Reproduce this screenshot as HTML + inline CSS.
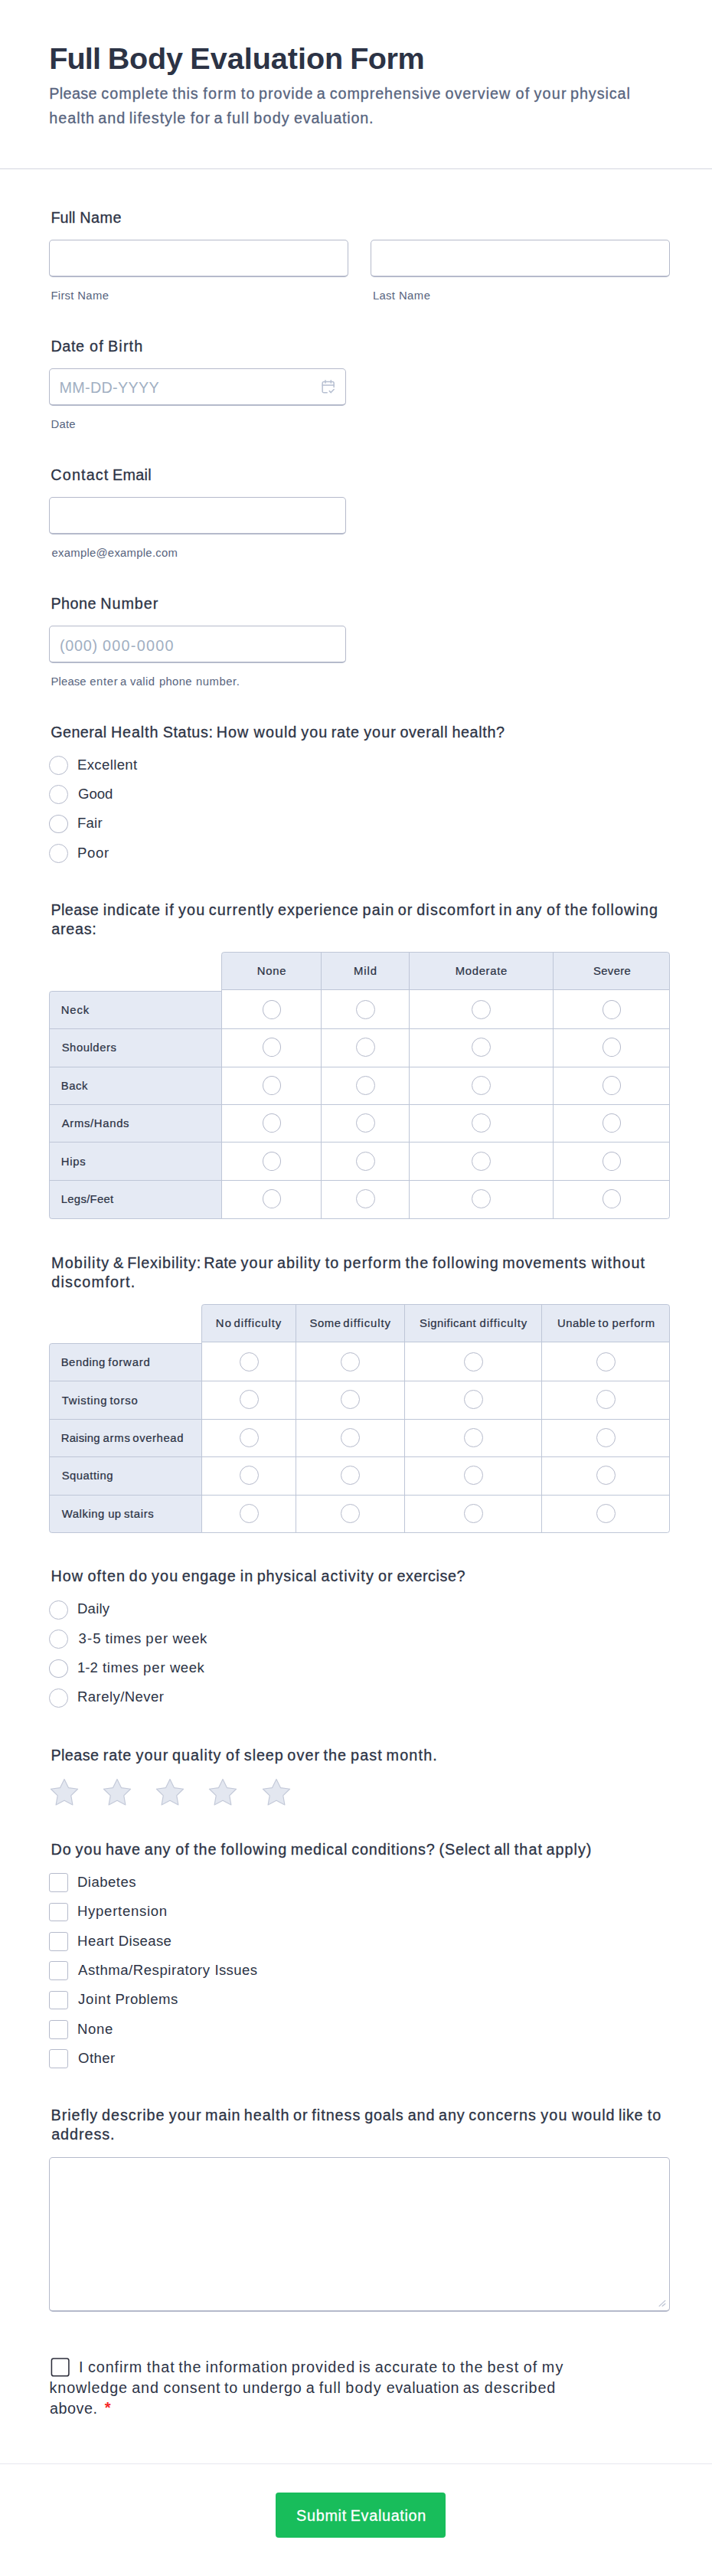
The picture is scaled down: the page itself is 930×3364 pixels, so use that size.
<!DOCTYPE html>
<html lang="en"><head><meta charset="utf-8"><title>Full Body Evaluation Form</title>
<style>
html,body{margin:0;padding:0;background:#fff}
body{width:930px;height:3364px;position:relative;overflow:hidden;font-family:"Liberation Sans",sans-serif}
.t{position:absolute;white-space:nowrap;line-height:1}
.b{position:absolute;box-sizing:border-box}
</style></head>
<body>
<div class="b" style="left:0px;top:220px;width:930px;height:1px;background:#d3d5df"></div>
<div class="b" style="left:64px;top:313px;width:391px;height:49px;border:1px solid #b5bacb;background:#fff;border-radius:5px;border-bottom-width:2px"></div>
<div class="b" style="left:484px;top:313px;width:391px;height:49px;border:1px solid #b5bacb;background:#fff;border-radius:5px;border-bottom-width:2px"></div>
<div class="b" style="left:64px;top:481px;width:388px;height:49px;border:1px solid #b5bacb;background:#fff;border-radius:5px;border-bottom-width:2px"></div>
<svg class="b" style="left:420px;top:496.4px" width="17.3" height="18.26" viewBox="0 0 18 19" fill="none" stroke="#b6bfd1" stroke-width="1.55" stroke-linecap="round" stroke-linejoin="round"><path d="M7.5 17.5H3.2a2 2 0 0 1-2-2V4.6a2 2 0 0 1 2-2h11.6a2 2 0 0 1 2 2V10"/><path d="M1.2 7.4h15.6"/><path d="M5.2 0.9v3.4M12.8 0.9v3.4"/><path d="M10.7 15.2l2.1 2.1 4-4.3"/></svg>
<div class="b" style="left:64px;top:649px;width:388px;height:49px;border:1px solid #b5bacb;background:#fff;border-radius:5px;border-bottom-width:2px"></div>
<div class="b" style="left:64px;top:817px;width:388px;height:49px;border:1px solid #b5bacb;background:#fff;border-radius:5px;border-bottom-width:2px"></div>
<div class="b" style="left:64px;top:987px;width:25px;height:25px;border:1px solid #b5bacb;background:#fff;border-radius:50%"></div>
<div class="b" style="left:64px;top:1025px;width:25px;height:25px;border:1px solid #b5bacb;background:#fff;border-radius:50%"></div>
<div class="b" style="left:64px;top:1064px;width:25px;height:24px;border:1px solid #b5bacb;background:#fff;border-radius:50%"></div>
<div class="b" style="left:64px;top:1102px;width:25px;height:25px;border:1px solid #b5bacb;background:#fff;border-radius:50%"></div>
<div class="b" style="left:289px;top:1243px;width:586px;height:51px;border:1px solid #bec6d7;background:#e5eaf4;border-radius:3.71px 3.71px 0 0"></div>
<div class="b" style="left:289px;top:1292px;width:586px;height:300px;border:1px solid #bec6d7;background:#fff;border-radius:0 0 3.71px 0"></div>
<div class="b" style="left:64px;top:1294px;width:226px;height:298px;border:1px solid #bec6d7;background:#e5eaf4;border-radius:3.71px 0 0 3.71px"></div>
<div class="b" style="left:64px;top:1343px;width:811px;height:1px;background:#bec6d7"></div>
<div class="b" style="left:64px;top:1393px;width:811px;height:1px;background:#bec6d7"></div>
<div class="b" style="left:64px;top:1442px;width:811px;height:1px;background:#bec6d7"></div>
<div class="b" style="left:64px;top:1491px;width:811px;height:1px;background:#bec6d7"></div>
<div class="b" style="left:64px;top:1541px;width:811px;height:1px;background:#bec6d7"></div>
<div class="b" style="left:419px;top:1243px;width:1px;height:349px;background:#bec6d7"></div>
<div class="b" style="left:534px;top:1243px;width:1px;height:349px;background:#bec6d7"></div>
<div class="b" style="left:722px;top:1243px;width:1px;height:349px;background:#bec6d7"></div>
<div class="b" style="left:343px;top:1306px;width:24px;height:25px;border:1px solid #b5bacb;background:#fff;border-radius:50%"></div>
<div class="b" style="left:343px;top:1355px;width:24px;height:25px;border:1px solid #b5bacb;background:#fff;border-radius:50%"></div>
<div class="b" style="left:343px;top:1405px;width:24px;height:25px;border:1px solid #b5bacb;background:#fff;border-radius:50%"></div>
<div class="b" style="left:343px;top:1454px;width:24px;height:25px;border:1px solid #b5bacb;background:#fff;border-radius:50%"></div>
<div class="b" style="left:343px;top:1504px;width:24px;height:25px;border:1px solid #b5bacb;background:#fff;border-radius:50%"></div>
<div class="b" style="left:343px;top:1553px;width:24px;height:25px;border:1px solid #b5bacb;background:#fff;border-radius:50%"></div>
<div class="b" style="left:465px;top:1306px;width:25px;height:25px;border:1px solid #b5bacb;background:#fff;border-radius:50%"></div>
<div class="b" style="left:465px;top:1355px;width:25px;height:25px;border:1px solid #b5bacb;background:#fff;border-radius:50%"></div>
<div class="b" style="left:465px;top:1405px;width:25px;height:25px;border:1px solid #b5bacb;background:#fff;border-radius:50%"></div>
<div class="b" style="left:465px;top:1454px;width:25px;height:25px;border:1px solid #b5bacb;background:#fff;border-radius:50%"></div>
<div class="b" style="left:465px;top:1504px;width:25px;height:25px;border:1px solid #b5bacb;background:#fff;border-radius:50%"></div>
<div class="b" style="left:465px;top:1553px;width:25px;height:25px;border:1px solid #b5bacb;background:#fff;border-radius:50%"></div>
<div class="b" style="left:616px;top:1306px;width:25px;height:25px;border:1px solid #b5bacb;background:#fff;border-radius:50%"></div>
<div class="b" style="left:616px;top:1355px;width:25px;height:25px;border:1px solid #b5bacb;background:#fff;border-radius:50%"></div>
<div class="b" style="left:616px;top:1405px;width:25px;height:25px;border:1px solid #b5bacb;background:#fff;border-radius:50%"></div>
<div class="b" style="left:616px;top:1454px;width:25px;height:25px;border:1px solid #b5bacb;background:#fff;border-radius:50%"></div>
<div class="b" style="left:616px;top:1504px;width:25px;height:25px;border:1px solid #b5bacb;background:#fff;border-radius:50%"></div>
<div class="b" style="left:616px;top:1553px;width:25px;height:25px;border:1px solid #b5bacb;background:#fff;border-radius:50%"></div>
<div class="b" style="left:787px;top:1306px;width:24px;height:25px;border:1px solid #b5bacb;background:#fff;border-radius:50%"></div>
<div class="b" style="left:787px;top:1355px;width:24px;height:25px;border:1px solid #b5bacb;background:#fff;border-radius:50%"></div>
<div class="b" style="left:787px;top:1405px;width:24px;height:25px;border:1px solid #b5bacb;background:#fff;border-radius:50%"></div>
<div class="b" style="left:787px;top:1454px;width:24px;height:25px;border:1px solid #b5bacb;background:#fff;border-radius:50%"></div>
<div class="b" style="left:787px;top:1504px;width:24px;height:25px;border:1px solid #b5bacb;background:#fff;border-radius:50%"></div>
<div class="b" style="left:787px;top:1553px;width:24px;height:25px;border:1px solid #b5bacb;background:#fff;border-radius:50%"></div>
<div class="b" style="left:263px;top:1703px;width:612px;height:51px;border:1px solid #bec6d7;background:#e5eaf4;border-radius:3.71px 3.71px 0 0"></div>
<div class="b" style="left:263px;top:1752px;width:612px;height:250px;border:1px solid #bec6d7;background:#fff;border-radius:0 0 3.71px 0"></div>
<div class="b" style="left:64px;top:1754px;width:200px;height:248px;border:1px solid #bec6d7;background:#e5eaf4;border-radius:3.71px 0 0 3.71px"></div>
<div class="b" style="left:64px;top:1803px;width:811px;height:1px;background:#bec6d7"></div>
<div class="b" style="left:64px;top:1853px;width:811px;height:1px;background:#bec6d7"></div>
<div class="b" style="left:64px;top:1902px;width:811px;height:1px;background:#bec6d7"></div>
<div class="b" style="left:64px;top:1952px;width:811px;height:1px;background:#bec6d7"></div>
<div class="b" style="left:386px;top:1703px;width:1px;height:299px;background:#bec6d7"></div>
<div class="b" style="left:528px;top:1703px;width:1px;height:299px;background:#bec6d7"></div>
<div class="b" style="left:707px;top:1703px;width:1px;height:299px;background:#bec6d7"></div>
<div class="b" style="left:313px;top:1766px;width:25px;height:25px;border:1px solid #b5bacb;background:#fff;border-radius:50%"></div>
<div class="b" style="left:313px;top:1815px;width:25px;height:25px;border:1px solid #b5bacb;background:#fff;border-radius:50%"></div>
<div class="b" style="left:313px;top:1865px;width:25px;height:25px;border:1px solid #b5bacb;background:#fff;border-radius:50%"></div>
<div class="b" style="left:313px;top:1914px;width:25px;height:25px;border:1px solid #b5bacb;background:#fff;border-radius:50%"></div>
<div class="b" style="left:313px;top:1964px;width:25px;height:25px;border:1px solid #b5bacb;background:#fff;border-radius:50%"></div>
<div class="b" style="left:445px;top:1766px;width:25px;height:25px;border:1px solid #b5bacb;background:#fff;border-radius:50%"></div>
<div class="b" style="left:445px;top:1815px;width:25px;height:25px;border:1px solid #b5bacb;background:#fff;border-radius:50%"></div>
<div class="b" style="left:445px;top:1865px;width:25px;height:25px;border:1px solid #b5bacb;background:#fff;border-radius:50%"></div>
<div class="b" style="left:445px;top:1914px;width:25px;height:25px;border:1px solid #b5bacb;background:#fff;border-radius:50%"></div>
<div class="b" style="left:445px;top:1964px;width:25px;height:25px;border:1px solid #b5bacb;background:#fff;border-radius:50%"></div>
<div class="b" style="left:606px;top:1766px;width:25px;height:25px;border:1px solid #b5bacb;background:#fff;border-radius:50%"></div>
<div class="b" style="left:606px;top:1815px;width:25px;height:25px;border:1px solid #b5bacb;background:#fff;border-radius:50%"></div>
<div class="b" style="left:606px;top:1865px;width:25px;height:25px;border:1px solid #b5bacb;background:#fff;border-radius:50%"></div>
<div class="b" style="left:606px;top:1914px;width:25px;height:25px;border:1px solid #b5bacb;background:#fff;border-radius:50%"></div>
<div class="b" style="left:606px;top:1964px;width:25px;height:25px;border:1px solid #b5bacb;background:#fff;border-radius:50%"></div>
<div class="b" style="left:779px;top:1766px;width:25px;height:25px;border:1px solid #b5bacb;background:#fff;border-radius:50%"></div>
<div class="b" style="left:779px;top:1815px;width:25px;height:25px;border:1px solid #b5bacb;background:#fff;border-radius:50%"></div>
<div class="b" style="left:779px;top:1865px;width:25px;height:25px;border:1px solid #b5bacb;background:#fff;border-radius:50%"></div>
<div class="b" style="left:779px;top:1914px;width:25px;height:25px;border:1px solid #b5bacb;background:#fff;border-radius:50%"></div>
<div class="b" style="left:779px;top:1964px;width:25px;height:25px;border:1px solid #b5bacb;background:#fff;border-radius:50%"></div>
<div class="b" style="left:64px;top:2090px;width:25px;height:25px;border:1px solid #b5bacb;background:#fff;border-radius:50%"></div>
<div class="b" style="left:64px;top:2128px;width:25px;height:25px;border:1px solid #b5bacb;background:#fff;border-radius:50%"></div>
<div class="b" style="left:64px;top:2167px;width:25px;height:24px;border:1px solid #b5bacb;background:#fff;border-radius:50%"></div>
<div class="b" style="left:64px;top:2205px;width:25px;height:25px;border:1px solid #b5bacb;background:#fff;border-radius:50%"></div>
<svg class="b" style="left:61.70px;top:2320.1px" width="44" height="44" viewBox="0 0 44 44"><polygon points="22.00,3.50 27.41,14.56 39.59,16.28 30.75,24.84 32.87,36.97 22.00,31.20 11.13,36.97 13.25,24.84 4.41,16.28 16.59,14.56" fill="#e3e7f0" stroke="#c4cad9" stroke-width="1.2" stroke-linejoin="round"/></svg>
<svg class="b" style="left:130.96px;top:2320.1px" width="44" height="44" viewBox="0 0 44 44"><polygon points="22.00,3.50 27.41,14.56 39.59,16.28 30.75,24.84 32.87,36.97 22.00,31.20 11.13,36.97 13.25,24.84 4.41,16.28 16.59,14.56" fill="#e3e7f0" stroke="#c4cad9" stroke-width="1.2" stroke-linejoin="round"/></svg>
<svg class="b" style="left:200.21px;top:2320.1px" width="44" height="44" viewBox="0 0 44 44"><polygon points="22.00,3.50 27.41,14.56 39.59,16.28 30.75,24.84 32.87,36.97 22.00,31.20 11.13,36.97 13.25,24.84 4.41,16.28 16.59,14.56" fill="#e3e7f0" stroke="#c4cad9" stroke-width="1.2" stroke-linejoin="round"/></svg>
<svg class="b" style="left:269.47px;top:2320.1px" width="44" height="44" viewBox="0 0 44 44"><polygon points="22.00,3.50 27.41,14.56 39.59,16.28 30.75,24.84 32.87,36.97 22.00,31.20 11.13,36.97 13.25,24.84 4.41,16.28 16.59,14.56" fill="#e3e7f0" stroke="#c4cad9" stroke-width="1.2" stroke-linejoin="round"/></svg>
<svg class="b" style="left:338.72px;top:2320.1px" width="44" height="44" viewBox="0 0 44 44"><polygon points="22.00,3.50 27.41,14.56 39.59,16.28 30.75,24.84 32.87,36.97 22.00,31.20 11.13,36.97 13.25,24.84 4.41,16.28 16.59,14.56" fill="#e3e7f0" stroke="#c4cad9" stroke-width="1.2" stroke-linejoin="round"/></svg>
<div class="b" style="left:64px;top:2446px;width:25px;height:25px;border:1px solid #b5bacb;background:#fff;border-radius:3.09px"></div>
<div class="b" style="left:64px;top:2485px;width:25px;height:24px;border:1px solid #b5bacb;background:#fff;border-radius:3.09px"></div>
<div class="b" style="left:64px;top:2523px;width:25px;height:25px;border:1px solid #b5bacb;background:#fff;border-radius:3.09px"></div>
<div class="b" style="left:64px;top:2561px;width:25px;height:25px;border:1px solid #b5bacb;background:#fff;border-radius:3.09px"></div>
<div class="b" style="left:64px;top:2600px;width:25px;height:24px;border:1px solid #b5bacb;background:#fff;border-radius:3.09px"></div>
<div class="b" style="left:64px;top:2638px;width:25px;height:25px;border:1px solid #b5bacb;background:#fff;border-radius:3.09px"></div>
<div class="b" style="left:64px;top:2676px;width:25px;height:25px;border:1px solid #b5bacb;background:#fff;border-radius:3.09px"></div>
<div class="b" style="left:64px;top:2817px;width:811px;height:202px;border:1px solid #b5bacb;border-bottom-width:2px;background:#fff;border-radius:4.95px"></div>
<svg class="b" style="left:858px;top:3002px" width="14" height="12" viewBox="0 0 14 12" stroke="#bcc3d3" stroke-width="1.3" stroke-linecap="round" fill="none"><path d="M3.1 9.6L10.8 2.4M7.2 9.6L10.8 6.4"/></svg>
<svg class="b" style="left:64px;top:3076px" width="30" height="30" viewBox="0 0 30 30"><rect x="3.4" y="4.0" width="22.5" height="22.8" rx="2.6" fill="#fff" stroke="#2d2e3b" stroke-width="1.55"/></svg>
<div class="b" style="left:0px;top:3217px;width:930px;height:1px;background:#e6e8ef"></div>
<div class="b" style="left:360px;top:3255px;width:222px;height:58.5px;background:#18bd5b;border-radius:4px;"></div>
<span class="t" style="left:64.35px;top:57.00px;font-size:39.574px;color:#2c3345;font-weight:700;letter-spacing:-0.907px;">Full</span>
<span class="t" style="left:140.70px;top:57.00px;font-size:39.574px;color:#2c3345;font-weight:700;letter-spacing:-0.181px;">Body</span>
<span class="t" style="left:248.30px;top:57.00px;font-size:39.574px;color:#2c3345;font-weight:700;letter-spacing:-0.007px;">Evaluation</span>
<span class="t" style="left:457.13px;top:57.00px;font-size:39.574px;color:#2c3345;font-weight:700;letter-spacing:-0.454px;">Form</span>
<span class="t" style="left:64.25px;top:113.00px;font-size:19.787px;color:#57647e;-webkit-text-stroke:0.30px;letter-spacing:0.357px;">Please</span>
<span class="t" style="left:132.35px;top:113.00px;font-size:19.787px;color:#57647e;-webkit-text-stroke:0.30px;letter-spacing:0.984px;">complete</span>
<span class="t" style="left:225.32px;top:113.00px;font-size:19.787px;color:#57647e;-webkit-text-stroke:0.30px;letter-spacing:0.895px;">this</span>
<span class="t" style="left:265.33px;top:113.00px;font-size:19.787px;color:#57647e;-webkit-text-stroke:0.30px;letter-spacing:1.185px;">form</span>
<span class="t" style="left:314.73px;top:113.00px;font-size:19.787px;color:#57647e;-webkit-text-stroke:0.30px;letter-spacing:1.185px;">to</span>
<span class="t" style="left:338.02px;top:113.00px;font-size:19.787px;color:#57647e;-webkit-text-stroke:0.30px;letter-spacing:0.942px;">provide</span>
<span class="t" style="left:413.87px;top:113.00px;font-size:19.787px;color:#57647e;-webkit-text-stroke:0.30px;">a</span>
<span class="t" style="left:430.84px;top:113.00px;font-size:19.787px;color:#57647e;-webkit-text-stroke:0.30px;letter-spacing:0.892px;">comprehensive</span>
<span class="t" style="left:581.46px;top:113.00px;font-size:19.787px;color:#57647e;-webkit-text-stroke:0.30px;letter-spacing:0.981px;">overview</span>
<span class="t" style="left:673.56px;top:113.00px;font-size:19.787px;color:#57647e;-webkit-text-stroke:0.30px;letter-spacing:1.185px;">of</span>
<span class="t" style="left:697.52px;top:113.00px;font-size:19.787px;color:#57647e;-webkit-text-stroke:0.30px;letter-spacing:1.185px;">your</span>
<span class="t" style="left:745.01px;top:113.00px;font-size:19.787px;color:#57647e;-webkit-text-stroke:0.30px;letter-spacing:0.924px;">physical</span>
<span class="t" style="left:64.25px;top:145.00px;font-size:19.787px;color:#57647e;-webkit-text-stroke:0.30px;letter-spacing:0.988px;">health</span>
<span class="t" style="left:128.20px;top:145.00px;font-size:19.787px;color:#57647e;-webkit-text-stroke:0.30px;letter-spacing:1.025px;">and</span>
<span class="t" style="left:168.71px;top:145.00px;font-size:19.787px;color:#57647e;-webkit-text-stroke:0.30px;letter-spacing:0.957px;">lifestyle</span>
<span class="t" style="left:248.65px;top:145.00px;font-size:19.787px;color:#57647e;-webkit-text-stroke:0.30px;letter-spacing:1.179px;">for</span>
<span class="t" style="left:279.38px;top:145.00px;font-size:19.787px;color:#57647e;-webkit-text-stroke:0.30px;">a</span>
<span class="t" style="left:296.35px;top:145.00px;font-size:19.787px;color:#57647e;-webkit-text-stroke:0.30px;letter-spacing:1.143px;">full</span>
<span class="t" style="left:331.33px;top:145.00px;font-size:19.787px;color:#57647e;-webkit-text-stroke:0.30px;letter-spacing:1.179px;">body</span>
<span class="t" style="left:383.91px;top:145.00px;font-size:19.787px;color:#57647e;-webkit-text-stroke:0.30px;letter-spacing:0.797px;">evaluation.</span>
<span class="t" style="left:66.50px;top:275.00px;font-size:19.787px;color:#2c3345;-webkit-text-stroke:0.30px;letter-spacing:0.039px;">Full</span>
<span class="t" style="left:104.26px;top:275.00px;font-size:19.787px;color:#2c3345;-webkit-text-stroke:0.30px;letter-spacing:0.504px;">Name</span>
<span class="t" style="left:66.50px;top:379.00px;font-size:14.840px;color:#57647e;letter-spacing:0.262px;">First</span>
<span class="t" style="left:101.28px;top:379.00px;font-size:14.840px;color:#57647e;letter-spacing:0.393px;">Name</span>
<span class="t" style="left:487.00px;top:379.00px;font-size:14.840px;color:#57647e;letter-spacing:0.302px;">Last</span>
<span class="t" style="left:520.88px;top:379.00px;font-size:14.840px;color:#57647e;letter-spacing:0.520px;">Name</span>
<span class="t" style="left:66.50px;top:443.00px;font-size:19.787px;color:#2c3345;-webkit-text-stroke:0.30px;letter-spacing:0.596px;">Date</span>
<span class="t" style="left:116.96px;top:443.00px;font-size:19.787px;color:#2c3345;-webkit-text-stroke:0.30px;letter-spacing:1.274px;">of</span>
<span class="t" style="left:141.03px;top:443.00px;font-size:19.787px;color:#2c3345;-webkit-text-stroke:0.30px;letter-spacing:1.143px;">Birth</span>
<span class="t" style="left:77.50px;top:497.00px;font-size:19.787px;color:#a1afc2;letter-spacing:0.312px;">MM-DD-YYYY</span>
<span class="t" style="left:66.50px;top:547.00px;font-size:14.840px;color:#57647e;letter-spacing:0.220px;">Date</span>
<span class="t" style="left:66.33px;top:611.00px;font-size:19.787px;color:#2c3345;-webkit-text-stroke:0.30px;letter-spacing:1.146px;">Contact</span>
<span class="t" style="left:146.99px;top:611.00px;font-size:19.787px;color:#2c3345;-webkit-text-stroke:0.30px;letter-spacing:0.308px;">Email</span>
<span class="t" style="left:67.50px;top:715.00px;font-size:14.840px;color:#57647e;letter-spacing:0.282px;">example@example.com</span>
<span class="t" style="left:66.50px;top:779.00px;font-size:19.787px;color:#2c3345;-webkit-text-stroke:0.30px;letter-spacing:0.429px;">Phone</span>
<span class="t" style="left:131.20px;top:779.00px;font-size:19.787px;color:#2c3345;-webkit-text-stroke:0.30px;letter-spacing:0.967px;">Number</span>
<span class="t" style="left:78.00px;top:834.00px;font-size:19.787px;color:#a1afc2;letter-spacing:0.710px;">(000)</span>
<span class="t" style="left:133.97px;top:834.00px;font-size:19.787px;color:#a1afc2;letter-spacing:1.284px;">000-0000</span>
<span class="t" style="left:66.50px;top:883.00px;font-size:14.840px;color:#57647e;letter-spacing:0.153px;">Please</span>
<span class="t" style="left:117.16px;top:883.00px;font-size:14.840px;color:#57647e;letter-spacing:0.694px;">enter</span>
<span class="t" style="left:157.02px;top:883.00px;font-size:14.840px;color:#57647e;">a</span>
<span class="t" style="left:169.99px;top:883.00px;font-size:14.840px;color:#57647e;letter-spacing:0.354px;">valid</span>
<span class="t" style="left:207.88px;top:883.00px;font-size:14.840px;color:#57647e;letter-spacing:0.343px;">phone</span>
<span class="t" style="left:256.04px;top:883.00px;font-size:14.840px;color:#57647e;letter-spacing:0.542px;">number.</span>
<span class="t" style="left:66.25px;top:947.00px;font-size:19.787px;color:#2c3345;-webkit-text-stroke:0.30px;letter-spacing:0.421px;">General</span>
<span class="t" style="left:144.93px;top:947.00px;font-size:19.787px;color:#2c3345;-webkit-text-stroke:0.30px;letter-spacing:0.888px;">Health</span>
<span class="t" style="left:212.65px;top:947.00px;font-size:19.787px;color:#2c3345;-webkit-text-stroke:0.30px;letter-spacing:0.642px;">Status:</span>
<span class="t" style="left:282.78px;top:947.00px;font-size:19.787px;color:#2c3345;-webkit-text-stroke:0.30px;letter-spacing:0.969px;">How</span>
<span class="t" style="left:331.62px;top:947.00px;font-size:19.787px;color:#2c3345;-webkit-text-stroke:0.30px;letter-spacing:1.012px;">would</span>
<span class="t" style="left:393.23px;top:947.00px;font-size:19.787px;color:#2c3345;-webkit-text-stroke:0.30px;letter-spacing:1.035px;">you</span>
<span class="t" style="left:432.76px;top:947.00px;font-size:19.787px;color:#2c3345;-webkit-text-stroke:0.30px;letter-spacing:0.714px;">rate</span>
<span class="t" style="left:475.19px;top:947.00px;font-size:19.787px;color:#2c3345;-webkit-text-stroke:0.30px;letter-spacing:1.035px;">your</span>
<span class="t" style="left:522.42px;top:947.00px;font-size:19.787px;color:#2c3345;-webkit-text-stroke:0.30px;letter-spacing:0.649px;">overall</span>
<span class="t" style="left:590.38px;top:947.00px;font-size:19.787px;color:#2c3345;-webkit-text-stroke:0.30px;letter-spacing:0.628px;">health?</span>
<span class="t" style="left:101.00px;top:990.00px;font-size:18.551px;color:#2c3345;letter-spacing:0.364px;">Excellent</span>
<span class="t" style="left:102.00px;top:1028.00px;font-size:18.551px;color:#2c3345;letter-spacing:0.008px;">Good</span>
<span class="t" style="left:101.00px;top:1066.00px;font-size:18.551px;color:#2c3345;letter-spacing:0.213px;">Fair</span>
<span class="t" style="left:101.00px;top:1105.00px;font-size:18.551px;color:#2c3345;letter-spacing:0.662px;">Poor</span>
<span class="t" style="left:66.50px;top:1179.00px;font-size:19.787px;color:#2c3345;-webkit-text-stroke:0.30px;letter-spacing:0.366px;">Please</span>
<span class="t" style="left:134.64px;top:1179.00px;font-size:19.787px;color:#2c3345;-webkit-text-stroke:0.30px;letter-spacing:0.888px;">indicate</span>
<span class="t" style="left:215.56px;top:1179.00px;font-size:19.787px;color:#2c3345;-webkit-text-stroke:0.30px;letter-spacing:1.204px;">if</span>
<span class="t" style="left:232.91px;top:1179.00px;font-size:19.787px;color:#2c3345;-webkit-text-stroke:0.30px;letter-spacing:1.204px;">you</span>
<span class="t" style="left:272.65px;top:1179.00px;font-size:19.787px;color:#2c3345;-webkit-text-stroke:0.30px;letter-spacing:1.103px;">currently</span>
<span class="t" style="left:363.02px;top:1179.00px;font-size:19.787px;color:#2c3345;-webkit-text-stroke:0.30px;letter-spacing:0.889px;">experience</span>
<span class="t" style="left:473.59px;top:1179.00px;font-size:19.787px;color:#2c3345;-webkit-text-stroke:0.30px;letter-spacing:1.067px;">pain</span>
<span class="t" style="left:519.68px;top:1179.00px;font-size:19.787px;color:#2c3345;-webkit-text-stroke:0.30px;letter-spacing:1.204px;">or</span>
<span class="t" style="left:544.16px;top:1179.00px;font-size:19.787px;color:#2c3345;-webkit-text-stroke:0.30px;letter-spacing:1.204px;">discomfort</span>
<span class="t" style="left:651.85px;top:1179.00px;font-size:19.787px;color:#2c3345;-webkit-text-stroke:0.30px;letter-spacing:1.204px;">in</span>
<span class="t" style="left:673.79px;top:1179.00px;font-size:19.787px;color:#2c3345;-webkit-text-stroke:0.30px;letter-spacing:0.893px;">any</span>
<span class="t" style="left:714.05px;top:1179.00px;font-size:19.787px;color:#2c3345;-webkit-text-stroke:0.30px;letter-spacing:1.204px;">of</span>
<span class="t" style="left:737.87px;top:1179.00px;font-size:19.787px;color:#2c3345;-webkit-text-stroke:0.30px;letter-spacing:1.061px;">the</span>
<span class="t" style="left:773.35px;top:1179.00px;font-size:19.787px;color:#2c3345;-webkit-text-stroke:0.30px;letter-spacing:1.091px;">following</span>
<span class="t" style="left:67.20px;top:1204.00px;font-size:19.787px;color:#2c3345;-webkit-text-stroke:0.30px;letter-spacing:0.744px;">areas:</span>
<span class="t" style="left:335.65px;top:1261.00px;font-size:14.840px;color:#2c3345;-webkit-text-stroke:0.23px;letter-spacing:0.790px;">None</span>
<span class="t" style="left:462.07px;top:1261.00px;font-size:14.840px;color:#2c3345;-webkit-text-stroke:0.23px;letter-spacing:0.886px;">Mild</span>
<span class="t" style="left:594.66px;top:1261.00px;font-size:14.840px;color:#2c3345;-webkit-text-stroke:0.23px;letter-spacing:0.717px;">Moderate</span>
<span class="t" style="left:774.92px;top:1261.00px;font-size:14.840px;color:#2c3345;-webkit-text-stroke:0.23px;letter-spacing:0.396px;">Severe</span>
<span class="t" style="left:79.70px;top:1312.00px;font-size:14.840px;color:#2c3345;-webkit-text-stroke:0.23px;letter-spacing:0.868px;">Neck</span>
<span class="t" style="left:80.70px;top:1361.00px;font-size:14.840px;color:#2c3345;-webkit-text-stroke:0.23px;letter-spacing:0.545px;">Shoulders</span>
<span class="t" style="left:79.70px;top:1411.00px;font-size:14.840px;color:#2c3345;-webkit-text-stroke:0.23px;letter-spacing:0.560px;">Back</span>
<span class="t" style="left:80.70px;top:1460.00px;font-size:14.840px;color:#2c3345;-webkit-text-stroke:0.23px;letter-spacing:0.691px;">Arms/Hands</span>
<span class="t" style="left:79.70px;top:1510.00px;font-size:14.840px;color:#2c3345;-webkit-text-stroke:0.23px;letter-spacing:0.754px;">Hips</span>
<span class="t" style="left:79.70px;top:1559.00px;font-size:14.840px;color:#2c3345;-webkit-text-stroke:0.23px;letter-spacing:0.322px;">Legs/Feet</span>
<span class="t" style="left:67.00px;top:1640.00px;font-size:19.787px;color:#2c3345;-webkit-text-stroke:0.30px;letter-spacing:1.170px;">Mobility</span>
<span class="t" style="left:147.95px;top:1640.00px;font-size:19.787px;color:#2c3345;-webkit-text-stroke:0.30px;">&amp;</span>
<span class="t" style="left:166.14px;top:1640.00px;font-size:19.787px;color:#2c3345;-webkit-text-stroke:0.30px;letter-spacing:0.841px;">Flexibility:</span>
<span class="t" style="left:266.33px;top:1640.00px;font-size:19.787px;color:#2c3345;-webkit-text-stroke:0.30px;letter-spacing:0.311px;">Rate</span>
<span class="t" style="left:314.48px;top:1640.00px;font-size:19.787px;color:#2c3345;-webkit-text-stroke:0.30px;letter-spacing:1.211px;">your</span>
<span class="t" style="left:362.07px;top:1640.00px;font-size:19.787px;color:#2c3345;-webkit-text-stroke:0.30px;letter-spacing:0.983px;">ability</span>
<span class="t" style="left:424.67px;top:1640.00px;font-size:19.787px;color:#2c3345;-webkit-text-stroke:0.30px;letter-spacing:1.211px;">to</span>
<span class="t" style="left:448.39px;top:1640.00px;font-size:19.787px;color:#2c3345;-webkit-text-stroke:0.30px;letter-spacing:1.211px;">perform</span>
<span class="t" style="left:529.49px;top:1640.00px;font-size:19.787px;color:#2c3345;-webkit-text-stroke:0.30px;letter-spacing:1.084px;">the</span>
<span class="t" style="left:565.03px;top:1640.00px;font-size:19.787px;color:#2c3345;-webkit-text-stroke:0.30px;letter-spacing:1.108px;">following</span>
<span class="t" style="left:656.33px;top:1640.00px;font-size:19.787px;color:#2c3345;-webkit-text-stroke:0.30px;letter-spacing:0.888px;">movements</span>
<span class="t" style="left:772.63px;top:1640.00px;font-size:19.787px;color:#2c3345;-webkit-text-stroke:0.30px;letter-spacing:1.123px;">without</span>
<span class="t" style="left:67.30px;top:1665.00px;font-size:19.787px;color:#2c3345;-webkit-text-stroke:0.30px;letter-spacing:1.220px;">discomfort.</span>
<span class="t" style="left:281.75px;top:1721.00px;font-size:14.840px;color:#2c3345;-webkit-text-stroke:0.23px;letter-spacing:1.207px;">No</span>
<span class="t" style="left:305.53px;top:1721.00px;font-size:14.840px;color:#2c3345;-webkit-text-stroke:0.23px;letter-spacing:0.928px;">difficulty</span>
<span class="t" style="left:404.59px;top:1721.00px;font-size:14.840px;color:#2c3345;-webkit-text-stroke:0.23px;letter-spacing:0.549px;">Some</span>
<span class="t" style="left:448.33px;top:1721.00px;font-size:14.840px;color:#2c3345;-webkit-text-stroke:0.23px;letter-spacing:0.928px;">difficulty</span>
<span class="t" style="left:547.99px;top:1721.00px;font-size:14.840px;color:#2c3345;-webkit-text-stroke:0.23px;letter-spacing:0.526px;">Significant</span>
<span class="t" style="left:626.48px;top:1721.00px;font-size:14.840px;color:#2c3345;-webkit-text-stroke:0.23px;letter-spacing:0.928px;">difficulty</span>
<span class="t" style="left:727.92px;top:1721.00px;font-size:14.840px;color:#2c3345;-webkit-text-stroke:0.23px;letter-spacing:0.557px;">Unable</span>
<span class="t" style="left:781.37px;top:1721.00px;font-size:14.840px;color:#2c3345;-webkit-text-stroke:0.23px;letter-spacing:0.984px;">to</span>
<span class="t" style="left:799.61px;top:1721.00px;font-size:14.840px;color:#2c3345;-webkit-text-stroke:0.23px;letter-spacing:0.742px;">perform</span>
<span class="t" style="left:79.70px;top:1772.00px;font-size:14.840px;color:#2c3345;-webkit-text-stroke:0.23px;letter-spacing:0.536px;">Bending</span>
<span class="t" style="left:141.17px;top:1772.00px;font-size:14.840px;color:#2c3345;-webkit-text-stroke:0.23px;letter-spacing:0.870px;">forward</span>
<span class="t" style="left:80.70px;top:1822.00px;font-size:14.840px;color:#2c3345;-webkit-text-stroke:0.23px;letter-spacing:0.760px;">Twisting</span>
<span class="t" style="left:143.42px;top:1822.00px;font-size:14.840px;color:#2c3345;-webkit-text-stroke:0.23px;letter-spacing:0.837px;">torso</span>
<span class="t" style="left:79.70px;top:1871.00px;font-size:14.840px;color:#2c3345;-webkit-text-stroke:0.23px;letter-spacing:0.237px;">Raising</span>
<span class="t" style="left:134.43px;top:1871.00px;font-size:14.840px;color:#2c3345;-webkit-text-stroke:0.23px;letter-spacing:0.812px;">arms</span>
<span class="t" style="left:173.31px;top:1871.00px;font-size:14.840px;color:#2c3345;-webkit-text-stroke:0.23px;letter-spacing:0.609px;">overhead</span>
<span class="t" style="left:80.70px;top:1920.00px;font-size:14.840px;color:#2c3345;-webkit-text-stroke:0.23px;letter-spacing:0.508px;">Squatting</span>
<span class="t" style="left:80.70px;top:1970.00px;font-size:14.840px;color:#2c3345;-webkit-text-stroke:0.23px;letter-spacing:0.576px;">Walking</span>
<span class="t" style="left:141.17px;top:1970.00px;font-size:14.840px;color:#2c3345;-webkit-text-stroke:0.23px;letter-spacing:0.436px;">up</span>
<span class="t" style="left:161.91px;top:1970.00px;font-size:14.840px;color:#2c3345;-webkit-text-stroke:0.23px;letter-spacing:0.687px;">stairs</span>
<span class="t" style="left:66.50px;top:2049.00px;font-size:19.787px;color:#2c3345;-webkit-text-stroke:0.30px;letter-spacing:0.984px;">How</span>
<span class="t" style="left:114.48px;top:2049.00px;font-size:19.787px;color:#2c3345;-webkit-text-stroke:0.30px;letter-spacing:1.144px;">often</span>
<span class="t" style="left:168.80px;top:2049.00px;font-size:19.787px;color:#2c3345;-webkit-text-stroke:0.30px;letter-spacing:1.144px;">do</span>
<span class="t" style="left:197.99px;top:2049.00px;font-size:19.787px;color:#2c3345;-webkit-text-stroke:0.30px;letter-spacing:1.144px;">you</span>
<span class="t" style="left:237.64px;top:2049.00px;font-size:19.787px;color:#2c3345;-webkit-text-stroke:0.30px;letter-spacing:0.819px;">engage</span>
<span class="t" style="left:313.77px;top:2049.00px;font-size:19.787px;color:#2c3345;-webkit-text-stroke:0.30px;letter-spacing:1.144px;">in</span>
<span class="t" style="left:335.65px;top:2049.00px;font-size:19.787px;color:#2c3345;-webkit-text-stroke:0.30px;letter-spacing:0.918px;">physical</span>
<span class="t" style="left:419.39px;top:2049.00px;font-size:19.787px;color:#2c3345;-webkit-text-stroke:0.30px;letter-spacing:1.144px;">activity</span>
<span class="t" style="left:493.99px;top:2049.00px;font-size:19.787px;color:#2c3345;-webkit-text-stroke:0.30px;letter-spacing:1.144px;">or</span>
<span class="t" style="left:518.41px;top:2049.00px;font-size:19.787px;color:#2c3345;-webkit-text-stroke:0.30px;letter-spacing:0.561px;">exercise?</span>
<span class="t" style="left:101.00px;top:2092.00px;font-size:18.551px;color:#2c3345;letter-spacing:0.231px;">Daily</span>
<span class="t" style="left:102.62px;top:2131.00px;font-size:18.551px;color:#2c3345;letter-spacing:1.128px;">3-5</span>
<span class="t" style="left:137.48px;top:2131.00px;font-size:18.551px;color:#2c3345;letter-spacing:0.645px;">times</span>
<span class="t" style="left:190.24px;top:2131.00px;font-size:18.551px;color:#2c3345;letter-spacing:1.128px;">per</span>
<span class="t" style="left:225.47px;top:2131.00px;font-size:18.551px;color:#2c3345;letter-spacing:0.482px;">week</span>
<span class="t" style="left:100.90px;top:2169.00px;font-size:18.551px;color:#2c3345;letter-spacing:0.081px;">1-2</span>
<span class="t" style="left:133.98px;top:2169.00px;font-size:18.551px;color:#2c3345;letter-spacing:0.645px;">times</span>
<span class="t" style="left:186.89px;top:2169.00px;font-size:18.551px;color:#2c3345;letter-spacing:0.981px;">per</span>
<span class="t" style="left:221.97px;top:2169.00px;font-size:18.551px;color:#2c3345;letter-spacing:0.482px;">week</span>
<span class="t" style="left:101.00px;top:2207.00px;font-size:18.551px;color:#2c3345;letter-spacing:0.422px;">Rarely/Never</span>
<span class="t" style="left:66.50px;top:2283.00px;font-size:19.787px;color:#2c3345;-webkit-text-stroke:0.30px;letter-spacing:0.400px;">Please</span>
<span class="t" style="left:134.83px;top:2283.00px;font-size:19.787px;color:#2c3345;-webkit-text-stroke:0.30px;letter-spacing:0.770px;">rate</span>
<span class="t" style="left:177.38px;top:2283.00px;font-size:19.787px;color:#2c3345;-webkit-text-stroke:0.30px;letter-spacing:1.158px;">your</span>
<span class="t" style="left:224.92px;top:2283.00px;font-size:19.787px;color:#2c3345;-webkit-text-stroke:0.30px;letter-spacing:1.047px;">quality</span>
<span class="t" style="left:295.01px;top:2283.00px;font-size:19.787px;color:#2c3345;-webkit-text-stroke:0.30px;letter-spacing:1.158px;">of</span>
<span class="t" style="left:318.85px;top:2283.00px;font-size:19.787px;color:#2c3345;-webkit-text-stroke:0.30px;letter-spacing:0.919px;">sleep</span>
<span class="t" style="left:375.28px;top:2283.00px;font-size:19.787px;color:#2c3345;-webkit-text-stroke:0.30px;letter-spacing:1.120px;">over</span>
<span class="t" style="left:422.43px;top:2283.00px;font-size:19.787px;color:#2c3345;-webkit-text-stroke:0.30px;letter-spacing:1.102px;">the</span>
<span class="t" style="left:458.01px;top:2283.00px;font-size:19.787px;color:#2c3345;-webkit-text-stroke:0.30px;letter-spacing:1.158px;">past</span>
<span class="t" style="left:504.57px;top:2283.00px;font-size:19.787px;color:#2c3345;-webkit-text-stroke:0.30px;letter-spacing:1.158px;">month.</span>
<span class="t" style="left:66.50px;top:2406.00px;font-size:19.787px;color:#2c3345;-webkit-text-stroke:0.30px;letter-spacing:0.999px;">Do</span>
<span class="t" style="left:98.39px;top:2406.00px;font-size:19.787px;color:#2c3345;-webkit-text-stroke:0.30px;letter-spacing:1.130px;">you</span>
<span class="t" style="left:138.09px;top:2406.00px;font-size:19.787px;color:#2c3345;-webkit-text-stroke:0.30px;letter-spacing:0.645px;">have</span>
<span class="t" style="left:188.77px;top:2406.00px;font-size:19.787px;color:#2c3345;-webkit-text-stroke:0.30px;letter-spacing:0.916px;">any</span>
<span class="t" style="left:229.14px;top:2406.00px;font-size:19.787px;color:#2c3345;-webkit-text-stroke:0.30px;letter-spacing:1.130px;">of</span>
<span class="t" style="left:252.94px;top:2406.00px;font-size:19.787px;color:#2c3345;-webkit-text-stroke:0.30px;letter-spacing:1.081px;">the</span>
<span class="t" style="left:288.47px;top:2406.00px;font-size:19.787px;color:#2c3345;-webkit-text-stroke:0.30px;letter-spacing:1.106px;">following</span>
<span class="t" style="left:379.76px;top:2406.00px;font-size:19.787px;color:#2c3345;-webkit-text-stroke:0.30px;letter-spacing:0.916px;">medical</span>
<span class="t" style="left:459.22px;top:2406.00px;font-size:19.787px;color:#2c3345;-webkit-text-stroke:0.30px;letter-spacing:0.865px;">conditions?</span>
<span class="t" style="left:573.57px;top:2406.00px;font-size:19.787px;color:#2c3345;-webkit-text-stroke:0.30px;letter-spacing:0.777px;">(Select</span>
<span class="t" style="left:645.25px;top:2406.00px;font-size:19.787px;color:#2c3345;-webkit-text-stroke:0.30px;letter-spacing:0.414px;">all</span>
<span class="t" style="left:671.72px;top:2406.00px;font-size:19.787px;color:#2c3345;-webkit-text-stroke:0.30px;letter-spacing:1.130px;">that</span>
<span class="t" style="left:713.59px;top:2406.00px;font-size:19.787px;color:#2c3345;-webkit-text-stroke:0.30px;letter-spacing:0.983px;">apply)</span>
<span class="t" style="left:101.00px;top:2449.00px;font-size:18.551px;color:#2c3345;letter-spacing:0.462px;">Diabetes</span>
<span class="t" style="left:101.00px;top:2487.00px;font-size:18.551px;color:#2c3345;letter-spacing:0.712px;">Hypertension</span>
<span class="t" style="left:101.00px;top:2526.00px;font-size:18.551px;color:#2c3345;letter-spacing:0.566px;">Heart</span>
<span class="t" style="left:154.75px;top:2526.00px;font-size:18.551px;color:#2c3345;letter-spacing:0.362px;">Disease</span>
<span class="t" style="left:102.00px;top:2564.00px;font-size:18.551px;color:#2c3345;letter-spacing:0.540px;">Asthma/Respiratory</span>
<span class="t" style="left:280.40px;top:2564.00px;font-size:18.551px;color:#2c3345;letter-spacing:0.402px;">Issues</span>
<span class="t" style="left:102.00px;top:2602.00px;font-size:18.551px;color:#2c3345;letter-spacing:0.783px;">Joint</span>
<span class="t" style="left:150.44px;top:2602.00px;font-size:18.551px;color:#2c3345;letter-spacing:0.498px;">Problems</span>
<span class="t" style="left:101.00px;top:2641.00px;font-size:18.551px;color:#2c3345;letter-spacing:0.676px;">None</span>
<span class="t" style="left:102.00px;top:2679.00px;font-size:18.551px;color:#2c3345;letter-spacing:0.455px;">Other</span>
<span class="t" style="left:66.50px;top:2753.00px;font-size:19.787px;color:#2c3345;-webkit-text-stroke:0.30px;letter-spacing:0.968px;">Briefly</span>
<span class="t" style="left:132.96px;top:2753.00px;font-size:19.787px;color:#2c3345;-webkit-text-stroke:0.30px;letter-spacing:0.990px;">describe</span>
<span class="t" style="left:220.63px;top:2753.00px;font-size:19.787px;color:#2c3345;-webkit-text-stroke:0.30px;letter-spacing:1.152px;">your</span>
<span class="t" style="left:268.01px;top:2753.00px;font-size:19.787px;color:#2c3345;-webkit-text-stroke:0.30px;letter-spacing:0.912px;">main</span>
<span class="t" style="left:318.72px;top:2753.00px;font-size:19.787px;color:#2c3345;-webkit-text-stroke:0.30px;letter-spacing:0.969px;">health</span>
<span class="t" style="left:382.92px;top:2753.00px;font-size:19.787px;color:#2c3345;-webkit-text-stroke:0.30px;letter-spacing:1.152px;">or</span>
<span class="t" style="left:407.32px;top:2753.00px;font-size:19.787px;color:#2c3345;-webkit-text-stroke:0.30px;letter-spacing:0.986px;">fitness</span>
<span class="t" style="left:476.37px;top:2753.00px;font-size:19.787px;color:#2c3345;-webkit-text-stroke:0.30px;letter-spacing:0.753px;">goals</span>
<span class="t" style="left:532.64px;top:2753.00px;font-size:19.787px;color:#2c3345;-webkit-text-stroke:0.30px;letter-spacing:0.997px;">and</span>
<span class="t" style="left:573.08px;top:2753.00px;font-size:19.787px;color:#2c3345;-webkit-text-stroke:0.30px;letter-spacing:0.843px;">any</span>
<span class="t" style="left:612.37px;top:2753.00px;font-size:19.787px;color:#2c3345;-webkit-text-stroke:0.30px;letter-spacing:1.053px;">concerns</span>
<span class="t" style="left:706.26px;top:2753.00px;font-size:19.787px;color:#2c3345;-webkit-text-stroke:0.30px;letter-spacing:1.152px;">you</span>
<span class="t" style="left:746.88px;top:2753.00px;font-size:19.787px;color:#2c3345;-webkit-text-stroke:0.30px;letter-spacing:0.999px;">would</span>
<span class="t" style="left:807.99px;top:2753.00px;font-size:19.787px;color:#2c3345;-webkit-text-stroke:0.30px;letter-spacing:0.593px;">like</span>
<span class="t" style="left:845.70px;top:2753.00px;font-size:19.787px;color:#2c3345;-webkit-text-stroke:0.30px;letter-spacing:1.152px;">to</span>
<span class="t" style="left:67.20px;top:2778.00px;font-size:19.787px;color:#2c3345;-webkit-text-stroke:0.30px;letter-spacing:0.930px;">address.</span>
<span class="t" style="left:103.01px;top:3082.00px;font-size:19.787px;color:#2c3345;">I</span>
<span class="t" style="left:114.91px;top:3082.00px;font-size:19.787px;color:#2c3345;letter-spacing:0.938px;">confirm</span>
<span class="t" style="left:191.78px;top:3082.00px;font-size:19.787px;color:#2c3345;letter-spacing:0.975px;">that</span>
<span class="t" style="left:233.22px;top:3082.00px;font-size:19.787px;color:#2c3345;letter-spacing:0.895px;">the</span>
<span class="t" style="left:268.61px;top:3082.00px;font-size:19.787px;color:#2c3345;letter-spacing:0.897px;">information</span>
<span class="t" style="left:380.63px;top:3082.00px;font-size:19.787px;color:#2c3345;letter-spacing:0.958px;">provided</span>
<span class="t" style="left:468.86px;top:3082.00px;font-size:19.787px;color:#2c3345;letter-spacing:0.453px;">is</span>
<span class="t" style="left:489.72px;top:3082.00px;font-size:19.787px;color:#2c3345;letter-spacing:0.814px;">accurate</span>
<span class="t" style="left:577.34px;top:3082.00px;font-size:19.787px;color:#2c3345;letter-spacing:0.853px;">to</span>
<span class="t" style="left:601.12px;top:3082.00px;font-size:19.787px;color:#2c3345;letter-spacing:0.895px;">the</span>
<span class="t" style="left:636.51px;top:3082.00px;font-size:19.787px;color:#2c3345;letter-spacing:1.119px;">best</span>
<span class="t" style="left:683.79px;top:3082.00px;font-size:19.787px;color:#2c3345;letter-spacing:0.933px;">of</span>
<span class="t" style="left:707.87px;top:3082.00px;font-size:19.787px;color:#2c3345;letter-spacing:1.158px;">my</span>
<span class="t" style="left:64.50px;top:3109.00px;font-size:19.787px;color:#2c3345;letter-spacing:0.889px;">knowledge</span>
<span class="t" style="left:172.20px;top:3109.00px;font-size:19.787px;color:#2c3345;letter-spacing:0.878px;">and</span>
<span class="t" style="left:213.60px;top:3109.00px;font-size:19.787px;color:#2c3345;letter-spacing:0.774px;">consent</span>
<span class="t" style="left:293.00px;top:3109.00px;font-size:19.787px;color:#2c3345;letter-spacing:0.764px;">to</span>
<span class="t" style="left:316.65px;top:3109.00px;font-size:19.787px;color:#2c3345;letter-spacing:0.767px;">undergo</span>
<span class="t" style="left:399.70px;top:3109.00px;font-size:19.787px;color:#2c3345;">a</span>
<span class="t" style="left:416.85px;top:3109.00px;font-size:19.787px;color:#2c3345;letter-spacing:0.962px;">full</span>
<span class="t" style="left:451.34px;top:3109.00px;font-size:19.787px;color:#2c3345;letter-spacing:1.111px;">body</span>
<span class="t" style="left:504.71px;top:3109.00px;font-size:19.787px;color:#2c3345;letter-spacing:0.523px;">evaluation</span>
<span class="t" style="left:604.71px;top:3109.00px;font-size:19.787px;color:#2c3345;letter-spacing:0.211px;">as</span>
<span class="t" style="left:632.83px;top:3109.00px;font-size:19.787px;color:#2c3345;letter-spacing:0.839px;">described</span>
<span class="t" style="left:65.00px;top:3136.00px;font-size:19.787px;color:#2c3345;letter-spacing:0.529px;">above.</span>
<span class="t" style="left:136.70px;top:3134.00px;font-size:20.183px;color:#f52626;font-weight:700;">*</span>
<span class="t" style="left:387.00px;top:3276.00px;font-size:19.787px;color:#fff;-webkit-text-stroke:0.30px;letter-spacing:0.738px;">Submit</span>
<span class="t" style="left:457.74px;top:3276.00px;font-size:19.787px;color:#fff;-webkit-text-stroke:0.30px;letter-spacing:0.694px;">Evaluation</span>
</body></html>
